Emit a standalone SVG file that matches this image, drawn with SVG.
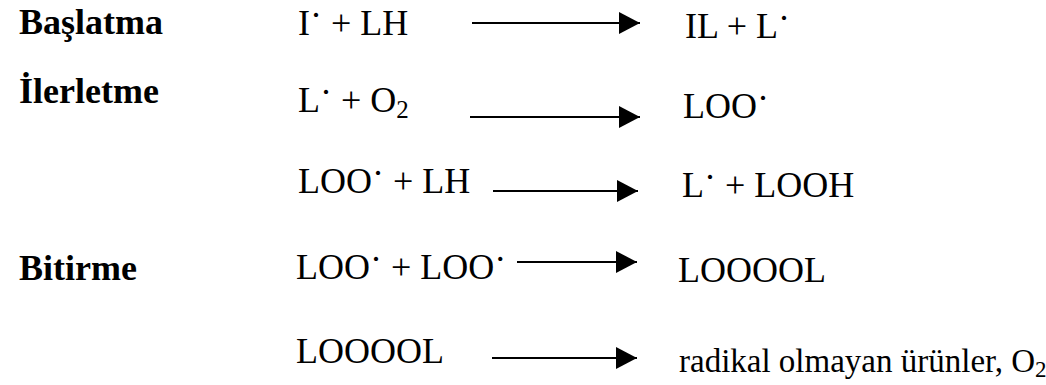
<svg xmlns="http://www.w3.org/2000/svg" width="1046" height="385" viewBox="0 0 1046 385">
<style>
text{font-family:"Liberation Serif",Tinos,"Noto Serif","DejaVu Serif",serif;fill:#000}
.lbl{font-weight:bold;font-size:36px}
.f{font-size:36px}
.s{font-size:33px}
.arr{stroke:#000;stroke-width:2.2;fill:none;marker-end:url(#ah)}
</style>
<defs>
<marker id="ah" markerUnits="userSpaceOnUse" markerWidth="22" markerHeight="22" viewBox="0 0 22 22" refX="21" refY="11" orient="auto">
<path d="M0,0 L21,11 L0,22 Z" fill="#000"/>
</marker>
</defs>
<rect width="1046" height="385" fill="#fff"/>
<g id="label-baslatma"><text class="lbl" x="19" y="34">Başlatma</text></g>
<g id="label-ilerletme"><text class="lbl" x="19" y="103">İlerletme</text></g>
<g id="label-bitirme"><text class="lbl" x="19" y="280">Bitirme</text></g>

<g id="r1-reactant"><text class="f" x="298" y="35">I<tspan dy="-8">·</tspan><tspan dy="8"> + LH</tspan></text></g>
<g id="r1-product"><text class="f" x="685" y="38">IL + L<tspan dy="-8">·</tspan></text></g>

<g id="r2-reactant"><text class="f" x="298" y="112">L<tspan dy="-8">·</tspan><tspan dy="8"> + O</tspan><tspan dy="6" font-size="25">2</tspan></text></g>
<g id="r2-product"><text class="f" x="683" y="118">LOO<tspan dy="-8">·</tspan></text></g>

<g id="r3-reactant"><text class="f" x="298" y="193">LOO<tspan dy="-8">·</tspan><tspan dy="8"> + LH</tspan></text></g>
<g id="r3-product"><text class="f" x="682" y="197">L<tspan dy="-8">·</tspan><tspan dy="8"> + LOOH</tspan></text></g>

<g id="r4-reactant"><text class="f" x="296" y="279">LOO<tspan dy="-8">·</tspan><tspan dy="8"> + LOO</tspan><tspan dy="-8">·</tspan></text></g>
<g id="r4-product"><text class="f" x="678" y="282">LOOOOL</text></g>

<g id="r5-reactant"><text class="f" x="296" y="363">LOOOOL</text></g>
<g id="r5-product"><text class="s" x="679" y="372">radikal olmayan ürünler, O<tspan dy="5" font-size="23">2</tspan></text></g>

<g id="connectors">
<line class="arr" x1="472" y1="23" x2="640" y2="23"/>
<line class="arr" x1="470" y1="117" x2="640" y2="117"/>
<line class="arr" x1="493" y1="191" x2="638" y2="191"/>
<line class="arr" x1="517" y1="262" x2="637" y2="262"/>
<line class="arr" x1="492" y1="358" x2="637" y2="358"/>
</g>
</svg>
